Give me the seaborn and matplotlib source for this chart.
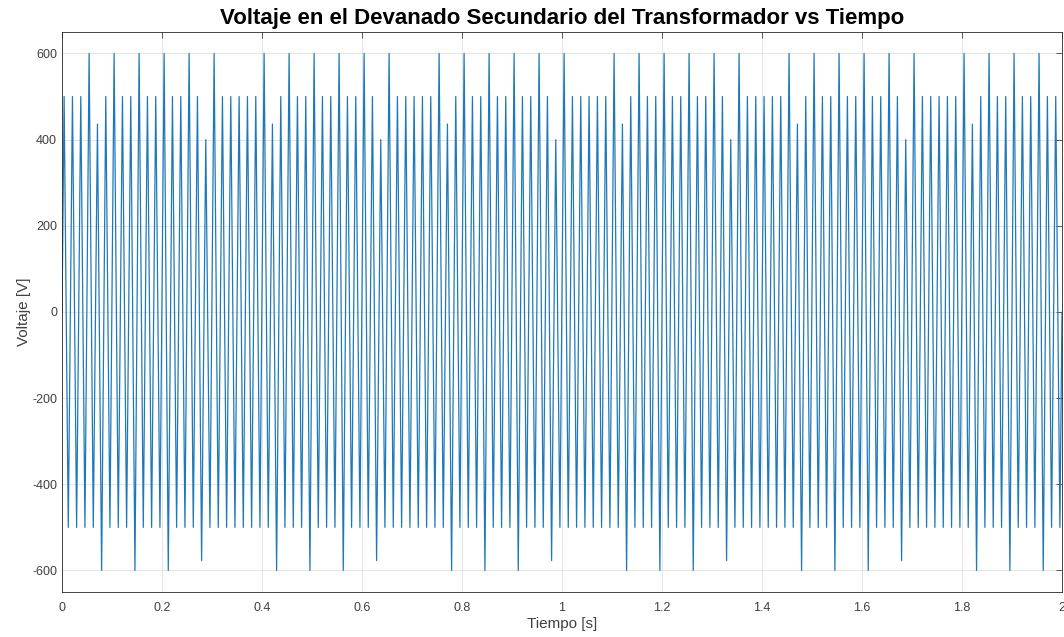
import numpy as np
import pandas as pd
import matplotlib.pyplot as plt
import seaborn as sns

# Set style
sns.set_theme(style="white")
plt.rcParams["font.family"] = ["Liberation Sans", "DejaVu Sans"]
plt.rcParams["axes.unicode_minus"] = False

# Peak and trough voltage of each 60 Hz cycle
peaks = [
    500, 500, 500, 600, 436, 500, 600, 500, 500, 600,
    500, 500, 600, 500, 500, 600, 500, 400, 600, 500,
    500, 500, 500, 500, 600, 436, 500, 600, 500, 500, 600,
    500, 500, 600, 500, 500, 600, 500, 400, 600, 500,
    500, 500, 500, 500, 600, 436, 500, 600, 500, 500,
    600, 500, 500, 600, 500, 500, 600, 500, 400, 600,
    500, 500, 500, 500, 500, 600, 436, 500, 600, 500,
    500, 600, 500, 500, 600, 500, 500, 600, 500, 400, 600,
    500, 500, 500, 500, 500, 600, 436, 500, 600, 500,
    500, 600, 500, 500, 600, 500, 500, 600, 500, 400,
    600, 500, 500, 500, 500, 500, 600, 436, 500, 600,
    500, 500, 600, 500, 500, 600, 500, 500,
]
troughs = [
    -500, -500, -500, -500, -600, -500, -500, -500, -600, -500,
    -500, -500, -600, -500, -500, -500, -577, -500, -500, -500,
    -500, -500, -500, -500, -500, -600, -500, -500, -500, -600,
    -500, -500, -500, -600, -500, -500, -500, -577, -500, -500,
    -500, -500, -500, -500, -500, -500, -600, -500, -500, -500,
    -600, -500, -500, -500, -600, -500, -500, -500, -577, -500,
    -500, -500, -500, -500, -500, -500, -500, -600, -500, -500,
    -500, -600, -500, -500, -500, -600, -500, -500, -500, -577,
    -500, -500, -500, -500, -500, -500, -500, -500, -600, -500,
    -500, -500, -600, -500, -500, -500, -600, -500, -500, -500,
    -577, -500, -500, -500, -500, -500, -500, -500, -500, -600,
    -500, -500, -500, -600, -500, -500, -500, -600, -500, -500,
]
freq = 60.0
t_end = 2.0

# Peaks sit a quarter period into each cycle, troughs three quarters
cycle = np.arange(len(peaks))
t_peak = (cycle + 0.25) / freq
t_trough = (cycle + 0.75) / freq

t = np.concatenate([[0.0], np.column_stack([t_peak, t_trough]).ravel(), [t_end]])
v = np.concatenate([[0.0], np.column_stack([peaks, troughs]).ravel(), [0.0]])
df = pd.DataFrame({"Tiempo": t, "Voltaje": v})

fig = plt.figure(figsize=(10.64, 6.37), dpi=100)
ax = fig.add_axes([0.0583, 0.0706, 0.9398, 0.8794])

sns.lineplot(data=df, x="Tiempo", y="Voltaje", color="#1f78b8",
             linewidth=0.9, estimator=None, ax=ax)

ax.set_xlim(0, 2)
ax.set_ylim(-650, 650)
ax.set_xticks(np.arange(0, 2.01, 0.2))
ax.set_xticklabels(["0", "0.2", "0.4", "0.6", "0.8", "1", "1.2", "1.4", "1.6", "1.8", "2"])
ax.set_yticks(np.arange(-600, 601, 200))

ax.grid(True, color="#e0e0e0", linewidth=0.6)
ax.tick_params(direction="in", length=4, width=0.6, top=True, right=True,
               labelsize=9, colors="#404040")
ax.tick_params(axis="x", pad=7)
for spine in ax.spines.values():
    spine.set_color("#262626")
    spine.set_linewidth(0.6)

ax.set_title("Voltaje en el Devanado Secundario del Transformador vs Tiempo",
             fontsize=16, fontweight="bold", color="black", pad=6)
ax.set_xlabel("Tiempo [s]", fontsize=11, color="#404040", labelpad=2)
ax.set_ylabel("Voltaje [V]", fontsize=11, color="#404040", labelpad=1)

plt.savefig("out.png", dpi=100)
plt.close()
